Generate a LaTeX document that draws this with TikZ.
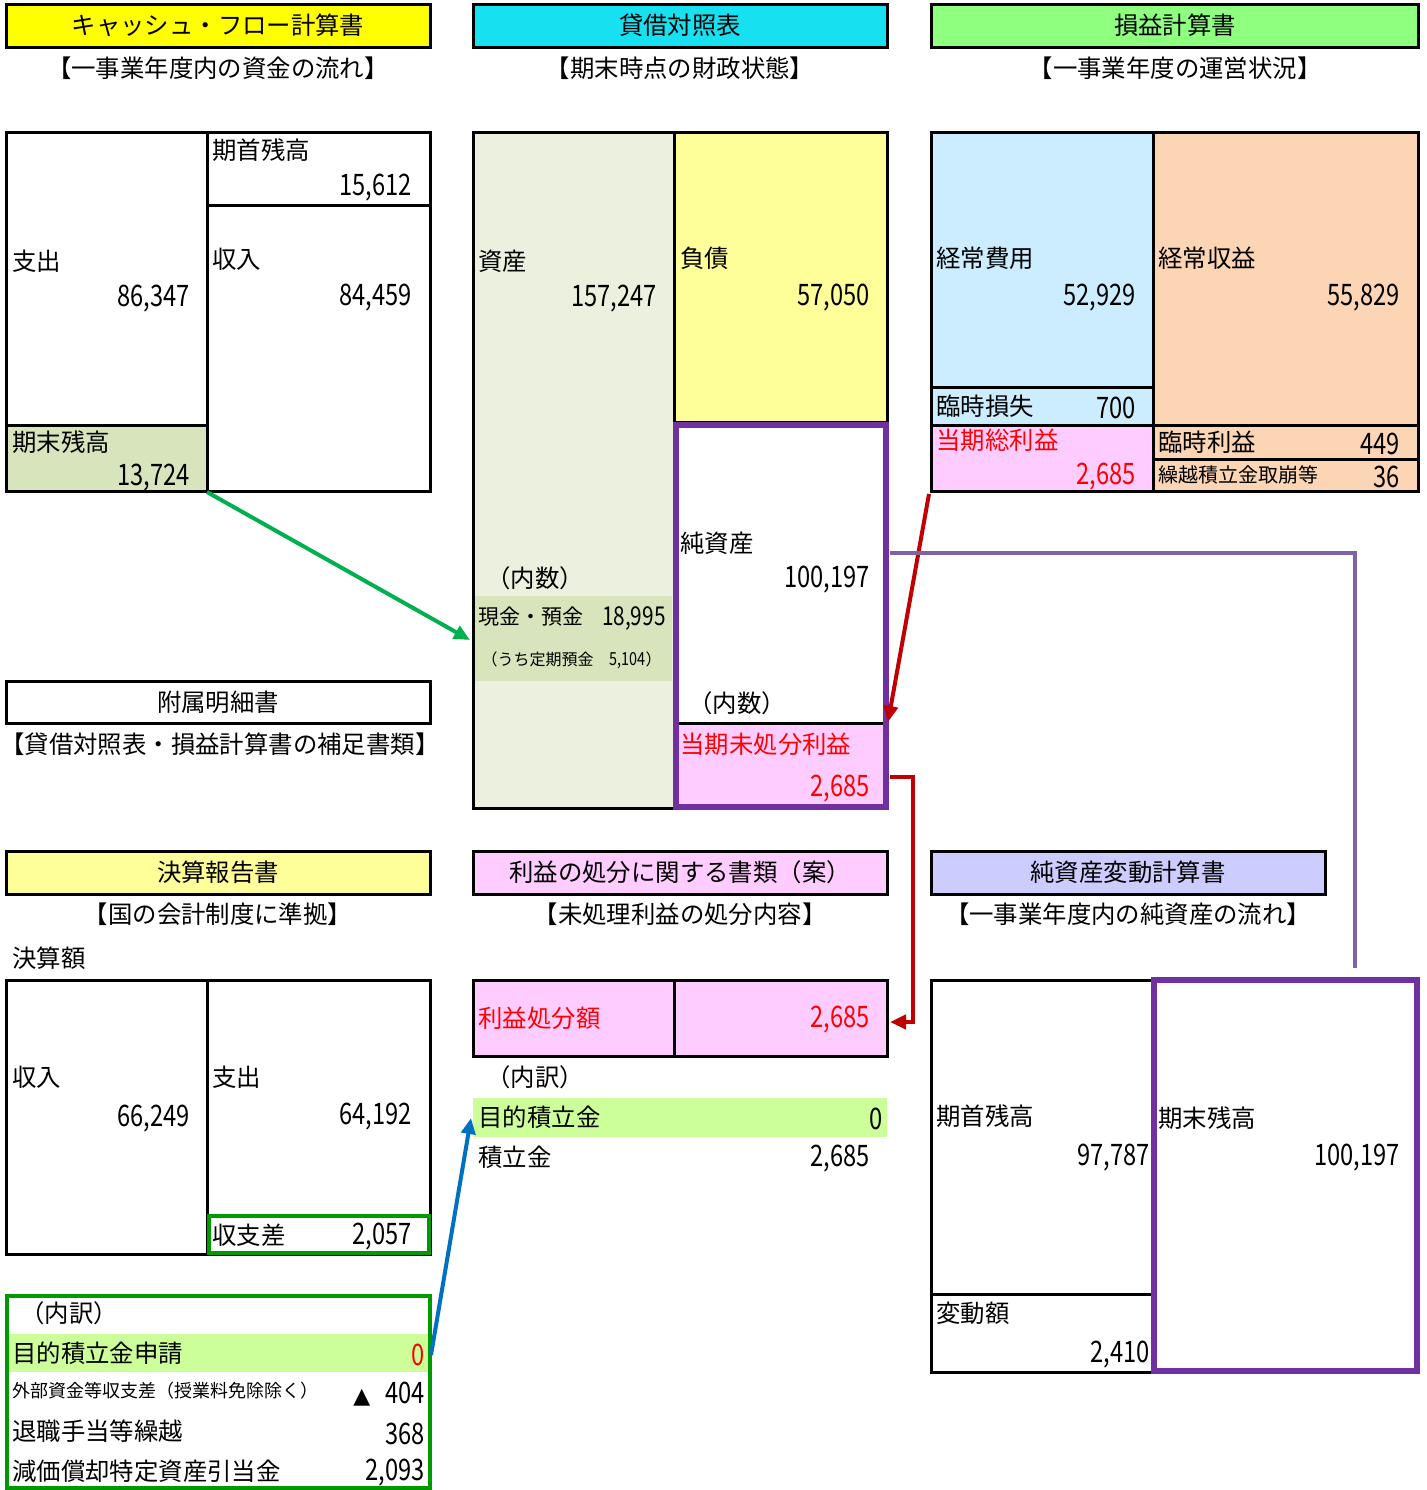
\documentclass[tikz,border=0pt]{standalone}
\usepackage{fontspec}
\setmainfont{Noto Sans CJK JP}
\newfontfamily\nf[FakeStretch=0.8]{Noto Sans CJK JP}
\usetikzlibrary{arrows.meta}
\definecolor{cfY}{HTML}{FFFF00}
\definecolor{bsC}{HTML}{17E0F0}
\definecolor{plG}{HTML}{8FFF80}
\definecolor{asset}{HTML}{EBF1DE}
\definecolor{liab}{HTML}{FFFF99}
\definecolor{pinkf}{HTML}{FFCCFF}
\definecolor{cashg}{HTML}{D8E4BC}
\definecolor{lblue}{HTML}{CCECFF}
\definecolor{peach}{HTML}{FCD5B4}
\definecolor{lav}{HTML}{CCCCFF}
\definecolor{lime}{HTML}{CCFF99}
\definecolor{purp}{HTML}{7030A0}
\definecolor{redT}{HTML}{FF0000}
\definecolor{dred}{HTML}{C00000}
\definecolor{arrG}{HTML}{00B050}
\definecolor{frG}{HTML}{009900}
\definecolor{arrB}{HTML}{0070C0}
\definecolor{purL}{HTML}{8064A2}
\begin{document}
\begin{tikzpicture}[x=0.5pt,y=-0.5pt,
  lbl/.style={anchor=west,inner sep=0pt,font=\fontsize{12.2}{14}\selectfont},
  mlbl/.style={anchor=west,inner sep=0pt,font=\fontsize{10.5}{12}\selectfont},
  slbl/.style={anchor=west,inner sep=0pt,font=\fontsize{10}{12}\selectfont},
  xslbl/.style={anchor=west,inner sep=0pt,font=\fontsize{9}{11}\selectfont},
  num/.style={anchor=east,inner sep=0pt,font=\nf\fontsize{14.8}{16}\selectfont},
  mnum/.style={anchor=east,inner sep=0pt,font=\nf\fontsize{13}{15}\selectfont},
  ttl/.style={inner sep=0pt,font=\fontsize{12.2}{14}\selectfont},
  box/.style={draw=black,line width=1.5pt},
  pbox/.style={draw=purp,line width=3pt},
  conn/.style={line width=2pt,-{Triangle[length=8pt,width=7pt]}}]
\useasboundingbox (0,0) rectangle (1427,1490);

% ---------- headers ----------
\draw[box,fill=cfY] (6,4) rectangle (430,47);
\node[ttl] (h1) at (218,25) {キャッシュ・フロー計算書};
\node[ttl] (s1) at (218,68) {【一事業年度内の資金の流れ】};
\draw[box,fill=bsC] (473,4) rectangle (887,47);
\node[ttl] (h2) at (680,25) {貸借対照表};
\node[ttl] (s2) at (680,68) {【期末時点の財政状態】};
\draw[box,fill=plG] (931,4) rectangle (1418,47);
\node[ttl] (h3) at (1175,25) {損益計算書};
\node[ttl] (s3) at (1175,68) {【一事業年度の運営状況】};

% ---------- cash flow ----------
\fill[cashg] (6,425) rectangle (207,491);
\draw[box] (6,132) rectangle (430,491);
\draw[box] (207,132) -- (207,491);
\draw[box] (207,205) -- (430,205);
\draw[box] (6,425) -- (207,425);
\node[lbl] (cf1) at (12,261) {支出};
\node[num] (cf1n) at (190,299) {86,347};
\node[lbl] (cf2) at (212,150) {期首残高};
\node[num] (cf2n) at (412,188) {15,612};
\node[lbl] (cf3) at (212,259) {収入};
\node[num] (cf3n) at (412,298) {84,459};
\node[lbl] (cf4) at (12,442) {期末残高};
\node[num] (cf4n) at (190,478) {13,724};

% ---------- balance sheet ----------
\fill[asset] (473,132) rectangle (674,808);
\fill[cashg] (475,596) rectangle (672,681);
\fill[liab] (674,132) rectangle (887,422);
\fill[pinkf] (677,723) rectangle (885,806);
\draw[box] (473,132) rectangle (674,808);
\draw[box] (674,132) rectangle (887,422);
\draw[box] (677,723) -- (885,723);
\fill[white] (677,426) rectangle (885,722);
\draw[pbox] (676,425) rectangle (886,807);
\node[lbl] (bs1) at (478,261) {資産};
\node[num] (bs1n) at (657,299) {157,247};
\node[lbl] (bs2) at (680,258) {負債};
\node[num] (bs2n) at (870,298) {57,050};
\node[lbl] (bs3) at (486,578) {（内数）};
\node[mlbl] (bs4) at (478,617) {現金・預金};
\node[mnum] (bs4n) at (666,619) {18,995};
\node[anchor=east,inner sep=0pt,font=\fontsize{8}{10}\selectfont] (bs5) at (662,660) {（うち定期預金\quad{\nf\fontsize{9}{10}\selectfont 5,104}）};
\node[lbl] (bs6) at (680,543) {純資産};
\node[num] (bs6n) at (870,580) {100,197};
\node[lbl] (bs7) at (688,703) {（内数）};
\node[lbl,text=redT] (bs8) at (680,744) {当期未処分利益};
\node[num,text=redT] (bs8n) at (870,789) {2,685};

% ---------- P/L ----------
\fill[lblue] (931,132) rectangle (1153,425);
\fill[pinkf] (931,425) rectangle (1153,491);
\fill[peach] (1153,132) rectangle (1418,491);
\draw[box] (931,132) rectangle (1418,491);
\draw[box] (1153,132) -- (1153,491);
\draw[box] (931,387) -- (1153,387);
\draw[box] (931,425) -- (1418,425);
\draw[box] (1153,459) -- (1418,459);
\node[lbl] (pl1) at (936,258) {経常費用};
\node[num] (pl1n) at (1136,298) {52,929};
\node[lbl] (pl2) at (936,406) {臨時損失};
\node[num] (pl2n) at (1136,408) {700};
\node[lbl,text=redT] (pl3) at (936,440) {当期総利益};
\node[num,text=redT] (pl3n) at (1136,477) {2,685};
\node[lbl] (pl4) at (1158,258) {経常収益};
\node[num] (pl4n) at (1400,298) {55,829};
\node[lbl] (pl5) at (1158,442) {臨時利益};
\node[num] (pl5n) at (1400,444) {449};
\node[slbl] (pl6) at (1158,475) {繰越積立金取崩等};
\node[num] (pl6n) at (1400,477) {36};

% ---------- supplementary ----------
\draw[box,fill=white] (6,681) rectangle (430,723);
\node[ttl] (h4) at (218,702) {附属明細書};
\node[ttl] (s4) at (220,744) {【貸借対照表・損益計算書の補足書類】};

% ---------- bottom headers ----------
\draw[box,fill=liab] (6,851) rectangle (430,894);
\node[ttl] (h5) at (218,872) {決算報告書};
\node[ttl] (s5) at (218,914) {【国の会計制度に準拠】};
\draw[box,fill=pinkf] (473,851) rectangle (887,894);
\node[ttl] (h6) at (680,872) {利益の処分に関する書類（案）};
\node[ttl] (s6) at (680,914) {【未処理利益の処分内容】};
\draw[box,fill=lav] (931,851) rectangle (1325,894);
\node[ttl] (h7) at (1128,872) {純資産変動計算書};
\node[ttl] (s7) at (1128,914) {【一事業年度内の純資産の流れ】};

% ---------- settlement report ----------
\node[lbl] (k0) at (12,958) {決算額};
\draw[box] (6,980) rectangle (430,1254);
\draw[box] (207,980) -- (207,1254);
\draw[draw=frG,line width=2pt] (209,1216) rectangle (429,1253);
\node[lbl] (k1) at (12,1077) {収入};
\node[num] (k1n) at (190,1119) {66,249};
\node[lbl] (k2) at (212,1077) {支出};
\node[num] (k2n) at (412,1117) {64,192};
\node[lbl] (k3) at (212,1235) {収支差};
\node[num] (k3n) at (412,1237) {2,057};

\fill[lime] (8,1334) rectangle (428,1372);
\draw[draw=frG,line width=2pt] (7,1296) rectangle (430,1488);
\node[lbl] (u0) at (20,1313) {（内訳）};
\node[lbl] (u1) at (12,1353) {目的積立金申請};
\node[num,text=redT] (u1n) at (425,1355) {0};
\node[xslbl] (u2) at (12,1391) {外部資金等収支差（授業料免除除く）};
\node[num] (u2n) at (425,1394) {{\fontspec{DejaVu Sans}\fontsize{11}{12}\selectfont ▲}\enspace 404};
\node[lbl] (u3) at (12,1431) {退職手当等繰越};
\node[num] (u3n) at (425,1434) {368};
\node[lbl] (u4) at (12,1471) {減価償却特定資産引当金};
\node[num] (u4n) at (425,1473) {2,093};

% ---------- profit disposal ----------
\fill[pinkf] (473,980) rectangle (887,1056);
\draw[box] (473,980) rectangle (887,1056);
\draw[box] (674,980) -- (674,1056);
\node[lbl,text=redT] (d1) at (478,1018) {利益処分額};
\node[num,text=redT] (d1n) at (870,1020) {2,685};
\node[lbl] (d0) at (486,1077) {（内訳）};
\fill[lime] (473,1098) rectangle (887,1137);
\node[lbl] (d2) at (478,1117) {目的積立金};
\node[num] (d2n) at (883,1119) {0};
\node[lbl] (d3) at (478,1157) {積立金};
\node[num] (d3n) at (870,1159) {2,685};

% ---------- net assets change ----------
\draw[box] (931,980) rectangle (1153,1372);
\draw[box] (931,1294) -- (1153,1294);
\draw[pbox] (1154,980) rectangle (1417,1371);
\node[lbl] (n1) at (936,1116) {期首残高};
\node[num] (n1n) at (1150,1158) {97,787};
\node[lbl] (n2) at (936,1313) {変動額};
\node[num] (n2n) at (1150,1355) {2,410};
\node[lbl] (n3) at (1158,1118) {期末残高};
\node[num] (n3n) at (1400,1158) {100,197};

% ---------- connectors ----------
\coordinate (gA) at (207,492);
\coordinate (gB) at (470,640);
\draw[conn,arrG] (gA) -- (gB);
\coordinate (rA) at (929,494);
\coordinate (rB) at (888,722);
\draw[conn,dred] (rA) -- (rB);
\coordinate (eA) at (890,777);
\coordinate (eX) at (913,777);
\coordinate (eB) at (890,1022);
\draw[conn,dred] (eA) -- (eX) |- (eB);
\coordinate (pA) at (890,553);
\coordinate (pB) at (1355,968);
\draw[line width=2pt,purL] (pA) -| (pB);
\coordinate (bA) at (431,1355);
\coordinate (bB) at (471,1118);
\draw[conn,arrB] (bA) -- (bB);
\end{tikzpicture}
\end{document}
